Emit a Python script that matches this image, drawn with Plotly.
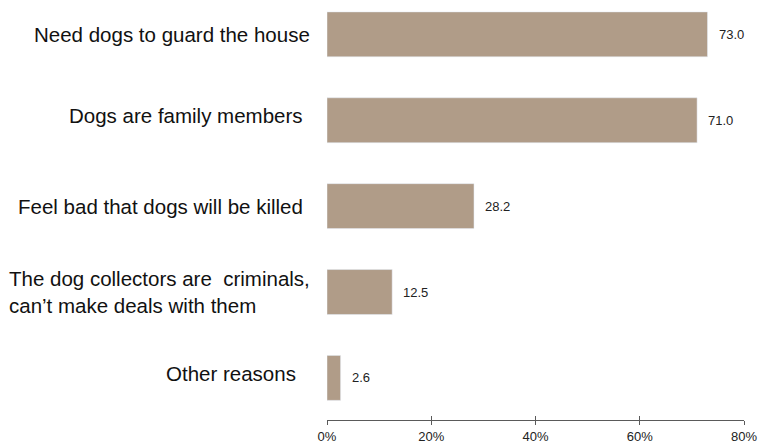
import plotly.graph_objects as go

# Survey responses: reasons for not selling dogs (% of respondents)
categories = [
    "Need dogs to guard the house",
    "Dogs are family members",
    "Feel bad that dogs will be killed",
    "The dog collectors are\u00a0 criminals,<br>can\u2019t make deals with them",
    "Other reasons",
]
values = [73.0, 71.0, 28.2, 12.5, 2.6]
tick_vals = [0, 20, 40, 60, 80]
tick_text = ["0%", "20%", "40%", "60%", "80%"]

# label placement (pixel offsets from the plot's left edge / vertical nudges)
label_xshift = [-15, -22, -22, -15, -29]
label_yshift = [0, 5, 0, 0, 4]
label_align = ["right", "right", "right", "left", "right"]

BAR = "#b09c88"
AXIS = "#5a5a5a"
FONT = "Liberation Sans, Arial, sans-serif"

fig = go.Figure()
fig.add_trace(go.Bar(
    x=values, y=categories, orientation="h",
    marker=dict(color=BAR, line=dict(width=0)),
    hoverinfo="skip", showlegend=False,
))
# second, invisible trace so an overlaying axis draws the inward half of each tick
fig.add_trace(go.Bar(
    x=values, y=categories, orientation="h", xaxis="x2",
    marker=dict(color="rgba(0,0,0,0)"), hoverinfo="skip", showlegend=False,
))

annotations = []
for cat, v in zip(categories, values):
    annotations.append(dict(
        x=v, y=cat, xref="x", yref="y", text=f"{v:.1f}",
        showarrow=False, xanchor="left", xshift=9,
        font=dict(family=FONT, size=13, color="#222222"),
    ))
for cat, xs, ys, al in zip(categories, label_xshift, label_yshift, label_align):
    annotations.append(dict(
        x=0, y=cat, xref="paper", yref="y", text=cat,
        showarrow=False, xanchor="right", xshift=xs, yshift=ys, align=al,
        font=dict(family=FONT, size=20.5, color="#111111"),
    ))

common_x = dict(range=[0, 80], tickvals=tick_vals, showgrid=False, zeroline=False,
                showline=True, linecolor=AXIS, linewidth=1, tickcolor=AXIS,
                ticklen=4, tickwidth=1)

fig.update_layout(
    width=758, height=446,
    margin=dict(l=327, r=14, t=0, b=26),
    paper_bgcolor="white", plot_bgcolor="white",
    barmode="overlay", bargap=0.477,
    font=dict(family=FONT, size=13, color="#222222"),
    xaxis=dict(**common_x, ticks="outside", ticktext=tick_text,
               tickfont=dict(family=FONT, size=13, color="#222222")),
    xaxis2=dict(**common_x, ticks="inside", overlaying="x", side="bottom",
                showticklabels=False, anchor="y"),
    yaxis=dict(categoryorder="array", categoryarray=categories,
               range=[4.49, -0.4], showticklabels=False, showgrid=False,
               zeroline=False, showline=False, ticks=""),
    annotations=annotations,
)

fig.write_html("out.html")
